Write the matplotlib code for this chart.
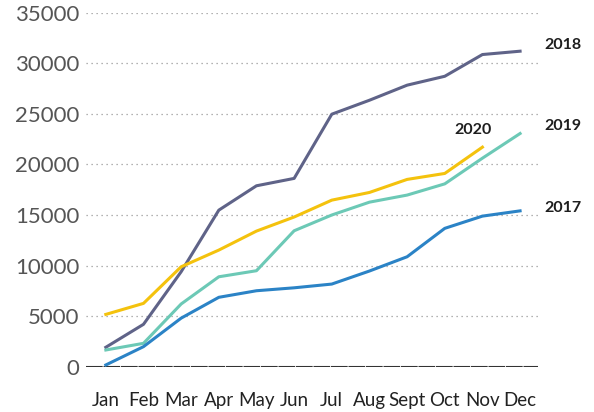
import matplotlib.pyplot as plt

months = ["Jan", "Feb", "Mar", "Apr", "May", "Jun", "Jul", "Aug", "Sept", "Oct", "Nov", "Dec"]

y2017 = [170, 1980, 4800, 6860, 7510, 7800, 8170, 9460, 10870, 13680, 14890, 15410]
y2018 = [1920, 4190, 9390, 15480, 17890, 18620, 24970, 26350, 27840, 28720, 30870, 31200]
y2019 = [1650, 2310, 6200, 8890, 9490, 13440, 15000, 16270, 16970, 18080, 20620, 23060]
y2020 = [5170, 6260, 9880, 11530, 13410, 14800, 16470, 17230, 18520, 19110, 21710]

plt.rcParams['font.family'] = ['Lato', 'DejaVu Sans']

fig = plt.figure(figsize=(5.94, 4.12), dpi=100)
ax = fig.add_axes([0.145, 0.11, 0.761, 0.859])

x = list(range(len(months)))
ax.plot(x, y2018, color="#5f6388", lw=2.2, clip_on=False, zorder=3)
ax.plot(x, y2019, color="#6cc9b6", lw=2.2, clip_on=False, zorder=3)
ax.plot(x, y2017, color="#2b83c6", lw=2.2, clip_on=False, zorder=3)
ax.plot(x[:len(y2020)], y2020, color="#f4c20d", lw=2.2, clip_on=False, zorder=4)

ax.set_xlim(-0.523, 11.48)
ax.set_ylim(0, 35000)
ax.set_yticks(range(0, 35001, 5000))
ax.set_xticks(x)
ax.set_xticklabels(months)

for v in range(5000, 35001, 5000):
    ax.axhline(v, color="#999999", lw=0.9, ls=(0, (1, 3)), zorder=1)
ax.axhline(0, color="#333333", lw=1.5, ls=(0, (8, 0.4)), zorder=2)

for s in ax.spines.values():
    s.set_visible(False)
ax.tick_params(axis="y", length=0, labelsize=16, labelcolor="#555555", pad=5)
ax.tick_params(axis="x", length=0, labelsize=13.5, labelcolor="#222222", pad=18)

ax.text(11.65, y2018[-1] + 600, "2018", fontsize=11.5, fontweight="bold", color="#1e1e1e", va="center")
ax.text(11.65, y2019[-1] + 700, "2019", fontsize=11.5, fontweight="bold", color="#1e1e1e", va="center")
ax.text(11.65, y2017[-1] + 300, "2017", fontsize=11.5, fontweight="bold", color="#1e1e1e", va="center")
ax.text(9.25, 23400, "2020", fontsize=11.5, fontweight="bold", color="#1e1e1e", va="center")

fig.savefig("out.png", dpi=100)
